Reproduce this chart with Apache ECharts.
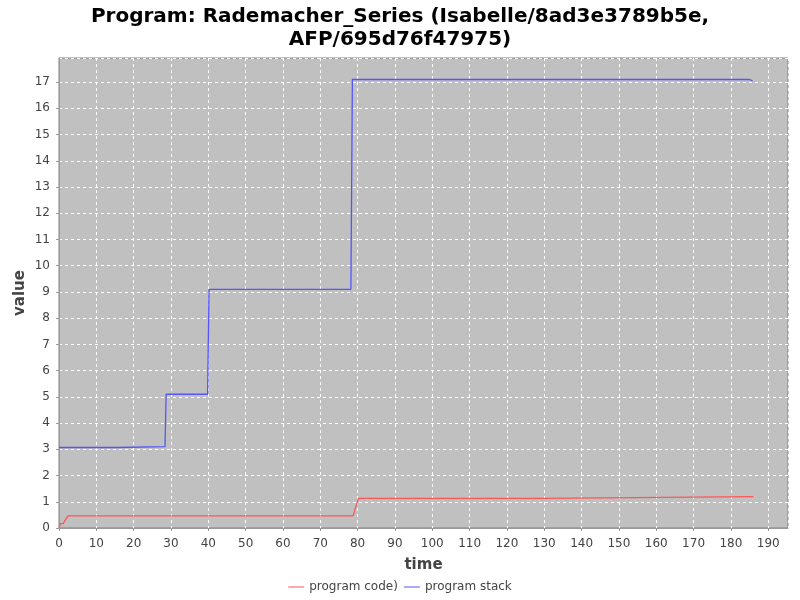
<!DOCTYPE html>
<html>
<head>
<meta charset="utf-8">
<script src="https://cdn.jsdelivr.net/npm/echarts@6/dist/echarts.min.js"></script>
<style>html,body{margin:0;padding:0;background:#fff}#c{width:800px;height:600px}</style>
</head>
<body>
<div id="c"></div>
<script>
var titleText = 'Program: Rademacher_Series (Isabelle/8ad3e3789b5e,\nAFP/695d76f47975)';
var seriesNames = ['program code)', 'program stack'];
var codeData = [[0,0.02],[0.4,0.17],[1.1,0.17],[2.4,0.46],[78.8,0.46],[80.2,1.13],[129.2,1.13],[129.6,1.2],[186,1.2]];
var stackData = [[0,3.07],[15.8,3.07],[16,3.1],[28.4,3.1],[28.7,5.1],[39.8,5.1],[40.2,9.1],[78.2,9.1],[78.6,17.1],[185,17.1],[185.8,17.05]];
var xMax = 195.3, yMax = 17.92;

var chart = echarts.init(document.getElementById('c'));
var font = 'DejaVu Sans';
chart.setOption({
  backgroundColor: '#ffffff',
  animation: false,
  title: {
    text: titleText,
    left: 'center', top: 0,
    textStyle: {fontFamily: font, fontSize: 20, fontWeight: 'bold', color: '#000', lineHeight: 23}
  },
  legend: {
    bottom: 2, left: 'center',
    icon: 'path://M0,0H16V1H0Z',
    itemWidth: 16, itemHeight: 1, itemGap: 6,
    textStyle: {fontFamily: font, fontSize: 12, color: '#444'},
    data: seriesNames
  },
  grid: {
    left: 59, right: 12, top: 58, bottom: 72,
    outerBoundsMode: 'none',
    containLabel: false,
    show: true, backgroundColor: '#c0c0c0', borderColor: '#808080', borderWidth: 1
  },
  xAxis: {
    type: 'value', min: 0, max: xMax, interval: 10,
    offset: 4,
    name: 'time', nameLocation: 'middle', nameGap: 26, nameMoveOverlap: false,
    nameTextStyle: {fontFamily: font, fontSize: 15, fontWeight: 'bold', color: '#444'},
    axisLine: {show: true, lineStyle: {color: '#999'}},
    axisTick: {show: true, length: 3, lineStyle: {color: '#999'}},
    axisLabel: {fontFamily: font, fontSize: 12, color: '#444', showMaxLabel: false, margin: 6},
    splitLine: {show: true, lineStyle: {color: '#ffffff', type: [3, 3], width: 1}}
  },
  yAxis: {
    type: 'value', min: 0, max: yMax, interval: 1,
    offset: 4,
    name: 'value', nameLocation: 'middle', nameGap: 27, nameMoveOverlap: false,
    nameTextStyle: {fontFamily: font, fontSize: 15, fontWeight: 'bold', color: '#444'},
    axisLine: {show: true, lineStyle: {color: '#999'}},
    axisTick: {show: true, length: 3, lineStyle: {color: '#999'}},
    axisLabel: {fontFamily: font, fontSize: 12, color: '#444', showMaxLabel: false, margin: 5},
    splitLine: {show: true, lineStyle: {color: '#ffffff', type: [3, 3], width: 1}}
  },
  series: [
    {name: seriesNames[0], type: 'line', data: codeData, symbol: 'none', lineStyle: {color: '#ff5555', width: 1.3}, itemStyle: {color: '#ff5555'}},
    {name: seriesNames[1], type: 'line', data: stackData, symbol: 'none', lineStyle: {color: '#5555ff', width: 1.3}, itemStyle: {color: '#5555ff'}}
  ]
});
</script>
</body>
</html>
